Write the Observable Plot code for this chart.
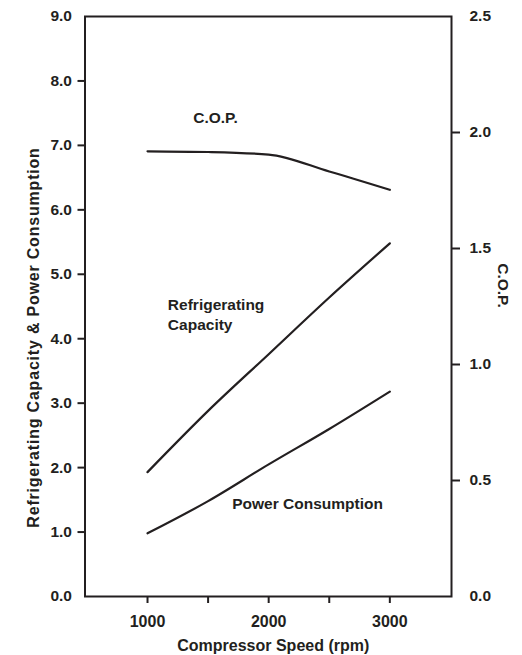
<!DOCTYPE html>
<html><head><meta charset="utf-8">
<script src="https://cdn.jsdelivr.net/npm/d3@7"></script>
<script src="https://cdn.jsdelivr.net/npm/@observablehq/plot@0.6"></script>
<style>body{margin:0;background:#fff} svg{display:block}</style>
</head><body><div id="chart"></div>
<script>
// Data
const speeds = [1000, 1500, 2000, 2500, 3000];               // rpm
const refrigeratingCapacity = [1.93, 2.88, 3.76, 4.64, 5.48];  // left axis
const powerConsumption = [0.98, 1.48, 2.05, 2.60, 3.18];       // left axis
const cop = [1.919, 1.916, 1.905, 1.832, 1.753];               // right axis

const leftTicks = [0, 1, 2, 3, 4, 5, 6, 7, 8, 9];
const rightTicks = [0, 0.5, 1.0, 1.5, 2.0, 2.5];
const xTickLabels = [1000, 2000, 3000];
const xTickMarks = [1000, 1500, 2000, 2500, 3000];

const xTitle = "Compressor Speed (rpm)";
const leftTitle = "Refrigerating Capacity & Power Consumption";
const rightTitle = "C.O.P.";
const seriesLabels = ["C.O.P.", "Refrigerating\nCapacity", "Power Consumption"];

const COP_RATIO = 9 / 2.5; // right axis (0–2.5) mapped onto left axis (0–9)
const INK = "#231f20";
const FONT = "'Liberation Sans', Arial, Helvetica, sans-serif";

const rows = speeds.map((s, i) => ({
  speed: s,
  rc: refrigeratingCapacity[i],
  pc: powerConsumption[i],
  cop: cop[i]
}));

const chart = Plot.plot({
  width: 522,
  height: 655,
  marginLeft: 84.5,
  marginRight: 71,
  marginTop: 16,
  marginBottom: 59,
  x: {domain: [484, 3509]},
  y: {domain: [0, 9]},
  style: {fontFamily: FONT, fontSize: "15px", fontWeight: "bold", color: INK, background: "white", overflow: "visible"},
  marks: [
    // left axis
    Plot.axisY(leftTicks, {tickSize: 0, tickPadding: 13, tickFormat: d => d.toFixed(1), label: null, fontSize: 15.5}),
    Plot.axisY(leftTicks.slice(1, -1), {tickSize: 7, tickFormat: () => "", strokeWidth: 2, stroke: INK, label: null}),
    // right axis (C.O.P.)
    Plot.axisY(rightTicks.map(v => v * COP_RATIO), {anchor: "right", tickSize: 0, tickPadding: 18, tickFormat: d => (d / COP_RATIO).toFixed(1), label: null, fontSize: 15.5}),
    Plot.axisY(rightTicks.slice(1, -1).map(v => v * COP_RATIO), {anchor: "right", tickSize: 8, tickFormat: () => "", strokeWidth: 2, stroke: INK, label: null}),
    // x axis
    Plot.axisX(xTickLabels, {tickSize: 0, tickPadding: 19, tickFormat: d => String(d), label: null, fontSize: 16}),
    Plot.axisX(xTickMarks, {tickSize: 7, tickFormat: () => "", strokeWidth: 2, stroke: INK, label: null}),
    Plot.frame({stroke: INK, strokeWidth: 2}),
    // series
    Plot.line(rows, {x: "speed", y: d => d.cop * COP_RATIO, curve: "monotone-x", stroke: INK, strokeWidth: 2.2}),
    Plot.line(rows, {x: "speed", y: "rc", curve: "monotone-x", stroke: INK, strokeWidth: 2.2}),
    Plot.line(rows, {x: "speed", y: "pc", curve: "monotone-x", stroke: INK, strokeWidth: 2.2}),
    // series labels
    Plot.text([seriesLabels[0]], {x: () => 1561, y: () => 7.43, text: d => d, textAnchor: "middle", lineAnchor: "middle", fontSize: 15.5, fill: INK}),
    Plot.text([seriesLabels[1]], {x: () => 1168, y: () => 4.39, text: d => d, textAnchor: "start", lineAnchor: "middle", lineHeight: 1.27, fontSize: 15.5, fill: INK}),
    Plot.text([seriesLabels[2]], {x: () => 1699, y: () => 1.43, text: d => d, textAnchor: "start", lineAnchor: "middle", fontSize: 15.5, fill: INK}),
    // axis titles
    Plot.text([xTitle], {frameAnchor: "bottom", text: d => d, dx: 5, dy: 49, textAnchor: "middle", lineAnchor: "middle", fontSize: 16, fill: INK}),
    Plot.text([leftTitle], {frameAnchor: "left", text: d => d, rotate: -90, dx: -51, dy: 31, textAnchor: "middle", lineAnchor: "middle", fontSize: 16, fill: INK}),
    Plot.text([rightTitle], {frameAnchor: "right", text: d => d, rotate: 90, dx: 51, dy: -21, textAnchor: "middle", lineAnchor: "middle", fontSize: 15.5, fill: INK})
  ]
});

// slightly wider tracking on the left axis title, as in the reference
d3.select(chart).selectAll("text")
  .filter(function () { return this.textContent === leftTitle; })
  .attr("letter-spacing", "0.8px");

document.getElementById("chart").appendChild(chart);
</script>
</body></html>
